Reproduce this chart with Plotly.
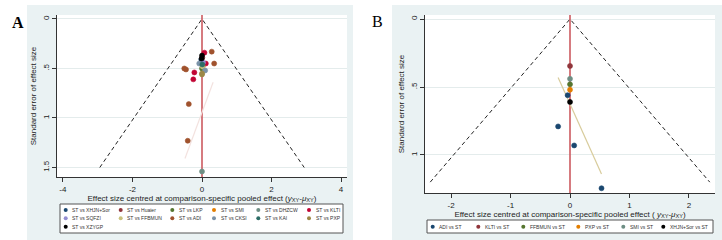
import plotly.graph_objects as go

W, H = 722, 240

# ---------------- data ----------------
a_series = ["ST vs XHJN+Sor", "ST vs Huaier", "ST vs LKP", "ST vs SMI", "ST vs DHZCW", "ST vs KLTI",
            "ST vs SQFZI", "ST vs FFBMUN", "ST vs ADI", "ST vs CKSI", "ST vs KAI", "ST vs PXP", "ST vs XZYGP"]
a_x = [[-0.02], [0.01], [0.0], [0.03], [0.0], [0.07, 0.11, -0.22, -0.25],
       [0.03], [0.02], [0.28, 0.35, -0.51, -0.46, -0.38, -0.41], [-0.08, 0.09],
       [0.01], [0.0, 0.0], [0.0, -0.01]]
a_se = [[0.41], [0.39], [0.50], [0.47], [1.54], [0.34, 0.45, 0.54, 0.61],
        [0.44], [0.48], [0.33, 0.45, 0.50, 0.51, 0.86, 1.23], [0.45, 0.52],
        [0.46], [0.55, 0.56], [0.37, 0.40]]
a_fit_x = [0.32, -0.49]
a_fit_se = [0.64, 1.41]
a_funnel_se = 1.5

b_series = ["ADI vs ST", "KLTI vs ST", "FFBMUN vs ST", "PXP vs ST", "SMI vs ST", "XHJN+Sor vs ST"]
b_x = [[-0.04, -0.20, 0.07, 0.53], [0.0], [0.0], [0.0], [0.0], [0.0]]
b_se = [[0.56, 0.79, 0.93, 1.245], [0.345], [0.48], [0.52], [0.44], [0.61]]
b_fit_x = [-0.20, 0.53]
b_fit_se = [0.43, 1.14]
b_funnel_se = 1.2

a_xticks = [-4, -2, 0, 2, 4]
a_yticks = [0, 0.5, 1, 1.5]
b_xticks = [-2, -1, 0, 1, 2]
b_yticks = [0, 0.5, 1]

# ---------------- styles ----------------
stata = ["#1a476f", "#90353b", "#55752f", "#e37e00", "#6e8e84", "#c10534",
         "#938dd2", "#cac27e", "#a0522d", "#7b92a8", "#2d6d66", "#9c8847", "#000000"]
a_colors = stata
b_colors = ["#1a476f", "#90353b", "#55752f", "#e37e00", "#6e8e84", "#000000"]
BG = "#eaf2f3"
GRID = "#e4ecec"
FONT = "Arial, Liberation Sans, sans-serif"

def fx(px):
    return px / W

def fy(py):
    return 1 - py / H

def tlab(v):
    s = ("%g" % v)
    if s.startswith("0."):
        s = s[1:]
    return s

fig = go.Figure()

def add_base(funnel_se, xa, ya):
    # funnel (pseudo 95% CI limits)
    fig.add_trace(go.Scatter(x=[-1.96 * funnel_se, 0, 1.96 * funnel_se], y=[funnel_se, 0, funnel_se],
                             mode="lines", line=dict(color="#222222", width=1, dash="4px,3px"),
                             showlegend=False, hoverinfo="skip", xaxis=xa, yaxis=ya))
    # reference line at zero
    fig.add_trace(go.Scatter(x=[0, 0], y=[-1, 3], mode="lines",
                             line=dict(color="#cc5a60", width=1.6),
                             showlegend=False, hoverinfo="skip", xaxis=xa, yaxis=ya))

def add_points(xs, ses, names, colors, xa, ya):
    for x, s, n, c in zip(xs, ses, names, colors):
        fig.add_trace(go.Scatter(x=x, y=s, mode="markers", name=n,
                                 marker=dict(color=c, size=5, line=dict(width=0.6, color=c)),
                                 showlegend=False, xaxis=xa, yaxis=ya))

add_base(a_funnel_se, "x", "y")
fig.add_trace(go.Scatter(x=a_fit_x, y=a_fit_se, mode="lines", line=dict(color="#f3e2df", width=1.2),
                         showlegend=False, hoverinfo="skip", xaxis="x", yaxis="y"))
add_points(a_x, a_se, a_series, a_colors, "x", "y")
add_base(b_funnel_se, "x2", "y2")
fig.add_trace(go.Scatter(x=b_fit_x, y=b_fit_se, mode="lines", line=dict(color="#d8cc9c", width=1.2),
                         showlegend=False, hoverinfo="skip", xaxis="x2", yaxis="y2"))
add_points(b_x, b_se, b_series, b_colors, "x2", "y2")

xtitle = "Effect size centred at comparison-specific pooled effect (<i>y</i><sub>XY</sub>-<i>μ</i><sub>XY</sub>)"
xtitle_b = "Effect size centred at comparison-specific pooled effect ( <i>y</i><sub>XY</sub>-<i>μ</i><sub>XY</sub>)"

def xaxis_style(dom, rng, ticks, title):
    return dict(domain=dom, range=rng, tickvals=ticks, ticktext=[("%g" % t) for t in ticks],
                ticks="outside", ticklen=4, tickwidth=1, tickcolor="#333333",
                showline=True, linecolor="#333333", linewidth=1, showgrid=False, zeroline=False,
                tickfont=dict(size=8, family=FONT, color="#222222"),
                title=dict(text=title, font=dict(size=8, family=FONT, color="#222222"), standoff=2),
                automargin=False, fixedrange=True)

def yaxis_style(dom, rng, ticks, title):
    return dict(domain=dom, range=rng, tickvals=ticks, ticktext=[tlab(t) for t in ticks],
                tickangle=-90,
                ticks="outside", ticklen=4, tickwidth=1, tickcolor="#333333",
                showline=True, linecolor="#333333", linewidth=1, showgrid=True, gridcolor=GRID,
                gridwidth=1, zeroline=False,
                tickfont=dict(size=8, family=FONT, color="#222222"),
                title=dict(text=title, font=dict(size=8, family=FONT, color="#222222"), standoff=3),
                automargin=False, fixedrange=True)

fig.update_layout(
    width=W, height=H, margin=dict(l=0, r=0, t=0, b=0),
    paper_bgcolor="white", plot_bgcolor="rgba(0,0,0,0)",
    showlegend=False,
    xaxis=xaxis_style([fx(57), fx(347)], [-4.17, 4.17], a_xticks, xtitle),
    yaxis=yaxis_style([fy(177), fy(15)], [1.596, -0.04], a_yticks, "Standard error of effect size"),
    xaxis2=xaxis_style([fx(425), fx(715)], [-2.44, 2.44], b_xticks, xtitle_b),
    yaxis2=yaxis_style([fy(193), fy(15)], [1.28, -0.03], b_yticks, "Standard error of effect size"),
)
fig.layout.xaxis2.anchor = "y2"
fig.layout.yaxis2.anchor = "x2"

shapes = []
# panel backgrounds and white plot regions
for (l, t, r, b) in [(27, 5, 353, 240), (392, 5, 722, 240)]:
    shapes.append(dict(type="rect", xref="paper", yref="paper", x0=fx(l), x1=fx(r), y0=fy(b), y1=fy(t),
                       fillcolor=BG, line=dict(width=0), layer="below"))
for (l, t, r, b) in [(57, 15, 347, 177), (425, 15, 715, 193)]:
    shapes.append(dict(type="rect", xref="paper", yref="paper", x0=fx(l), x1=fx(r), y0=fy(b), y1=fy(t),
                       fillcolor="white", line=dict(width=0), layer="below"))
# legend boxes
for (l, t, r, b) in [(60, 204, 343, 233), (427, 220, 713, 233)]:
    shapes.append(dict(type="rect", xref="paper", yref="paper", x0=fx(l), x1=fx(r), y0=fy(b), y1=fy(t),
                       fillcolor="white", line=dict(width=1, color="#555555"), layer="below"))

annotations = []

def legend(names, colors, col_x, row_y, ncol):
    for i, (n, c) in enumerate(zip(names, colors)):
        cx = col_x[i % ncol]
        cy = row_y[i // ncol]
        r = 2.0
        shapes.append(dict(type="circle", xref="paper", yref="paper",
                           x0=fx(cx - r), x1=fx(cx + r), y0=fy(cy + r), y1=fy(cy - r),
                           fillcolor=c, line=dict(width=0)))
        annotations.append(dict(x=fx(cx + 4.5), y=fy(cy), xref="paper", yref="paper", text=n,
                                showarrow=False, xanchor="left", yanchor="middle",
                                font=dict(size=5, family=FONT, color="#333333")))

legend(a_series, a_colors, [65.7, 120.7, 172.3, 214, 258.3, 309], [210, 218.3, 226.7], 6)
legend(b_series, b_colors, [432.7, 478.3, 523.3, 578.3, 623.3, 663.3], [226.7], 6)

annotations.append(dict(x=fx(10), y=fy(12), xref="paper", yref="paper", text="<b>A</b>", showarrow=False,
                        font=dict(size=16, family="Liberation Serif, Times New Roman, serif", color="black")))
annotations.append(dict(x=fx(377), y=fy(11), xref="paper", yref="paper", text="B", showarrow=False,
                        font=dict(size=16, family="Liberation Serif, Times New Roman, serif", color="black")))

fig.update_layout(shapes=shapes, annotations=annotations)
fig.write_html("out.html", config={"displayModeBar": False},
               post_script="document.body.style.margin='0';document.body.style.overflow='hidden';")
